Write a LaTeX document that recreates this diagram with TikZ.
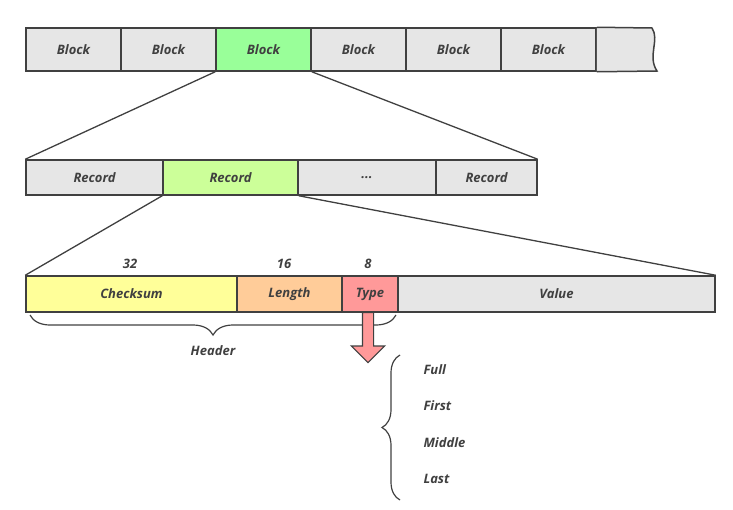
\documentclass[tikz,border=0pt]{standalone}
\usepackage{fontspec}
\setmainfont{Open Sans}
\usetikzlibrary{shapes.arrows,decorations.pathreplacing}
\definecolor{boxgray}{HTML}{E6E6E6}
\definecolor{boxline}{HTML}{404040}
\definecolor{blockgreen}{HTML}{99FF99}
\definecolor{recgreen}{HTML}{CCFF99}
\definecolor{sumyellow}{HTML}{FFFF99}
\definecolor{lenorange}{HTML}{FFCC99}
\definecolor{typered}{HTML}{FF9999}
\begin{document}
\begin{tikzpicture}[x=1pt,y=-1pt,
    font=\fontsize{13}{15}\selectfont\bfseries\itshape, text=boxline,
    field/.style={draw=boxline, line width=1.5pt, fill=boxgray, inner sep=0pt, minimum height=#1},
    zoomline/.style={draw=boxline, line width=1.3pt},
    bracket/.style={draw=boxline, line width=1.2pt, decorate, decoration={brace, amplitude=#1}}]
    \useasboundingbox (0,0) rectangle (733,509);
    % blocks
    \node[field=43, minimum width=95] at (73.5,49.5) (B1) {Block};
    \node[field=43, minimum width=95] at (168.5,49.5) (B2) {Block};
    \node[field=43, minimum width=95, fill=blockgreen] at (263.5,49.5) (B3) {Block};
    \node[field=43, minimum width=95] at (358.5,49.5) (B4) {Block};
    \node[field=43, minimum width=95] at (453.5,49.5) (B5) {Block};
    \node[field=43, minimum width=95] at (548.5,49.5) (B6) {Block};
    \draw[line width=1.5pt, draw=boxline, fill=boxgray] (B6.north east) -- (652,28)
        .. controls (660,40) and (647,56) .. (657,71) -- (B6.south east);
    % records
    \node[field=35, minimum width=137] at (94.5,177.5) (R1) {Record};
    \node[field=35, minimum width=135, fill=recgreen] at (230.5,177.5) (R2) {Record};
    \node[field=35, minimum width=138] at (367,177.5) (R3) {...};
    \node[field=35, minimum width=101] at (486.5,177.5) (R4) {Record};
    % record fields
    \node[field=36, minimum width=211, fill=sumyellow] at (131.5,294) (F1) {Checksum};
    \node[field=36, minimum width=105, fill=lenorange] at (289.5,294) (F2) {Length};
    \node[field=36, minimum width=56, fill=typered] at (370,294) (F3) {Type};
    \node[field=36, minimum width=317] at (556.5,294) (F4) {Value};
    \node[] at (130,264) (W1) {32};
    \node[] at (284,264) (W2) {16};
    \node[] at (368,264) (W3) {8};
    \draw[zoomline] (B3.south west) -- (R1.north west);
    \draw[zoomline] (B3.south east) -- (R4.north east);
    \draw[zoomline] (R2.south west) -- (F1.north west);
    \draw[zoomline] (R2.south east) -- (F4.north east);
    % header and type values
    \draw[bracket=20pt] (396,315) -- (30,315);
    \node[] at (213,351) (HDR) {Header};
    \node[single arrow, draw=boxline, line width=1.2pt, fill=typered, rotate=-90,
        inner sep=5pt, single arrow head extend=11pt, minimum height=50pt,
        anchor=tail] at (368,312) (TA) {};
    \draw[bracket=18pt] (400,500) -- (400,355);
    \node[anchor=west] at (420,370) (T1) {Full};
    \node[anchor=west] at (420,406) (T2) {First};
    \node[anchor=west] at (420,443) (T3) {Middle};
    \node[anchor=west] at (420,479) (T4) {Last};
\end{tikzpicture}
\end{document}
